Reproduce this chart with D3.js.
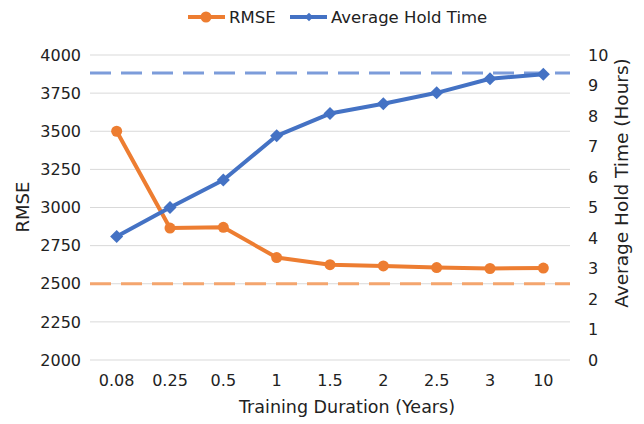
<!DOCTYPE html>
<html>
<head>
<meta charset="utf-8">
<script src="https://cdn.jsdelivr.net/npm/d3@7"></script>
<style>
  body { margin: 0; background: #fff; }
  svg text { font-family: "DejaVu Sans", sans-serif; fill: #222; }
</style>
</head>
<body>
<div id="chart"></div>
<script>
const durations = ["0.08", "0.25", "0.5", "1", "1.5", "2", "2.5", "3", "10"];
const rmse = [3500, 2865, 2870, 2672, 2625, 2617, 2606, 2600, 2603];
const holdTime = [4.05, 5.0, 5.9, 7.35, 8.08, 8.4, 8.76, 9.22, 9.37];
const rmseRef = 2500;
const holdRef = 9.41;
const rmseTicks = [2000, 2250, 2500, 2750, 3000, 3250, 3500, 3750, 4000];
const holdTicks = [0, 1, 2, 3, 4, 5, 6, 7, 8, 9, 10];

const W = 644, H = 424;
const margin = { top: 55, right: 74, bottom: 64, left: 90 };
const width = W - margin.left - margin.right;
const height = H - margin.top - margin.bottom;
const orange = "#ED7D31", blue = "#4472C4";

const svg = d3.select("#chart").append("svg").attr("width", W).attr("height", H);
const g = svg.append("g").attr("transform", `translate(${margin.left},${margin.top})`);

const x = d3.scaleBand().domain(durations).range([0, width]);
const yL = d3.scaleLinear().domain([2000, 4000]).range([height, 0]);
const yR = d3.scaleLinear().domain([0, 10]).range([height, 0]);
const cx = (d) => x(d) + x.bandwidth() / 2;

// gridlines
g.selectAll(".grid").data(rmseTicks).join("line")
  .attr("x1", 0).attr("x2", width)
  .attr("y1", (d) => yL(d)).attr("y2", (d) => yL(d))
  .attr("stroke", "#d9d9d9").attr("stroke-width", 1);

// axes (text only)
const left = g.append("g")
  .call(d3.axisLeft(yL).tickValues(rmseTicks).tickFormat(d3.format("d")).tickSize(0).tickPadding(9));
const right = g.append("g").attr("transform", `translate(${width},0)`)
  .call(d3.axisRight(yR).tickValues(holdTicks).tickFormat(d3.format("d")).tickSize(0).tickPadding(18));
const bottom = g.append("g").attr("transform", `translate(0,${height})`)
  .call(d3.axisBottom(x).tickSize(0).tickPadding(15));
[left, right, bottom].forEach((a) => {
  a.select(".domain").remove();
  a.selectAll("text").style("font-size", "16px").attr("fill", "#222");
});

// reference lines
g.append("line").attr("x1", 0).attr("x2", width)
  .attr("y1", yL(rmseRef)).attr("y2", yL(rmseRef))
  .attr("stroke", "#F4A56E").attr("stroke-width", 3).attr("stroke-dasharray", "21,10");
g.append("line").attr("x1", 0).attr("x2", width)
  .attr("y1", yR(holdRef)).attr("y2", yR(holdRef))
  .attr("stroke", "#7C9CDA").attr("stroke-width", 3).attr("stroke-dasharray", "21,10");

// RMSE line
g.append("path").datum(rmse)
  .attr("fill", "none").attr("stroke", orange).attr("stroke-width", 4)
  .attr("stroke-linejoin", "round")
  .attr("d", d3.line().x((d, i) => cx(durations[i])).y((d) => yL(d)));
g.selectAll(".dot").data(rmse).join("circle")
  .attr("cx", (d, i) => cx(durations[i])).attr("cy", (d) => yL(d))
  .attr("r", 5.5).attr("fill", orange);

// hold time line
g.append("path").datum(holdTime)
  .attr("fill", "none").attr("stroke", blue).attr("stroke-width", 4)
  .attr("stroke-linejoin", "round")
  .attr("d", d3.line().x((d, i) => cx(durations[i])).y((d) => yR(d)));
const diamond = d3.symbol().type(d3.symbolSquare).size(85);
g.selectAll(".dia").data(holdTime).join("path")
  .attr("transform", (d, i) => `translate(${cx(durations[i])},${yR(d)}) rotate(45)`)
  .attr("d", diamond).attr("fill", blue);

// axis titles
svg.append("text").attr("transform", "translate(29,207) rotate(-90)")
  .attr("text-anchor", "middle").style("font-size", "18px").text("RMSE");
svg.append("text").attr("transform", "translate(628,183) rotate(-90)")
  .attr("text-anchor", "middle").style("font-size", "18.5px").text("Average Hold Time (Hours)");
svg.append("text").attr("x", 347).attr("y", 413)
  .attr("text-anchor", "middle").style("font-size", "17.5px").text("Training Duration (Years)");

// legend
const legend = svg.append("g").attr("transform", "translate(188,17)");
const items = [
  { label: "RMSE", color: orange, marker: "circle", x: 0 },
  { label: "Average Hold Time", color: blue, marker: "diamond", x: 102 },
];
items.forEach((it) => {
  const l = legend.append("g").attr("transform", `translate(${it.x},0)`);
  l.append("line").attr("x1", 0).attr("x2", 37).attr("stroke", it.color).attr("stroke-width", 4);
  if (it.marker === "circle") l.append("circle").attr("cx", 18).attr("r", 5.5).attr("fill", it.color);
  else l.append("path").attr("transform", "translate(19,0) rotate(45)").attr("d", d3.symbol().type(d3.symbolSquare).size(36)).attr("fill", it.color);
  l.append("text").attr("x", 41).attr("y", 6).style("font-size", "16.5px").text(it.label);
});
</script>
</body>
</html>
